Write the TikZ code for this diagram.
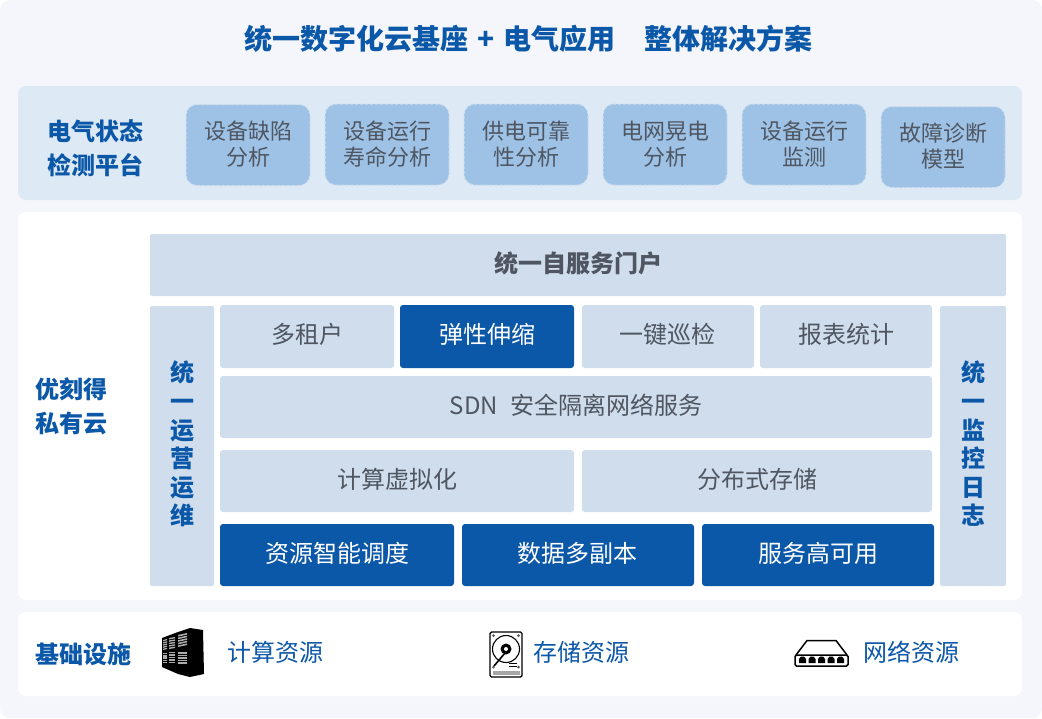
\documentclass[tikz,border=0pt]{standalone}
\usepackage{fontspec}
\setmainfont{Noto Sans CJK SC}
\definecolor{pagebg}{HTML}{F4F6FB}
\definecolor{panelblue}{HTML}{DDE9F5}
\definecolor{cardblue}{HTML}{9DC2E6}
\definecolor{lightbox}{HTML}{CFDDED}
\definecolor{darkblue}{HTML}{0B57A8}
\definecolor{greytext}{HTML}{4F5661}
\tikzset{
 x=1pt,y=-1pt,
 anynode/.style={inner sep=0pt,outer sep=0pt,align=center,anchor=center},
 panelbox/.style={anynode,rounded corners=8pt,fill=#1},
 card/.style={anynode,rounded corners=11pt,fill=cardblue,draw=lightbox,densely dashed,line width=1pt,text=greytext,font=\fontsize{22}{26}\selectfont,minimum width=124pt,minimum height=81pt},
 lbox/.style={anynode,rounded corners=3pt,fill=lightbox,text=greytext,font=\fontsize{24}{28}\selectfont,text height=20pt,text depth=6pt},
 dbox/.style={anynode,rounded corners=3pt,fill=darkblue,text=white,font=\fontsize{24}{28}\selectfont,text height=20pt,text depth=6pt},
 side/.style={anynode,rounded corners=2pt,fill=lightbox,text=darkblue,font=\bfseries\fontsize{24}{28.6}\selectfont,minimum width=#1,minimum height=280pt},
 head/.style={anynode,text=darkblue,font=\bfseries\fontsize{24}{34}\selectfont},
 res/.style={anynode,text=darkblue,font=\fontsize{24}{28}\selectfont},
 slat/.style={fill=gray!65,draw=none},
}
\begin{document}
\begin{tikzpicture}
\useasboundingbox (0,0) rectangle (1042,718);
\fill[white] (0,0) rectangle (1042,718);
\fill[pagebg,rounded corners=10pt] (0,0) rectangle (1042,718);
\node[anynode,text=darkblue,font=\bfseries\fontsize{28}{32}\selectfont] (title) at (528.5,39) {统一数字化云基座\hspace{8.5pt}+\hspace{8.5pt}电气应用\hspace{29pt}整体解决方案};
% panels
\node[panelbox=panelblue,minimum width=1004pt,minimum height=114pt] (p1) at (520,143) {};
\node[panelbox=white,minimum width=1004pt,minimum height=388pt] (p2) at (520,406) {};
\node[panelbox=white,minimum width=1004pt,minimum height=84pt] (p3) at (520,654) {};
% top row
\node[head] (ht) at (95.5,148) {电气状态\\检测平台};
\node[card] (c1) at (248,145) {设备缺陷\\分析\\[-23pt]};
\node[card] (c2) at (387,144.5) {设备运行\\寿命分析\\[-23pt]};
\node[card] (c3) at (526,144.5) {供电可靠\\性分析\\[-23pt]};
\node[card] (c4) at (665,144.5) {电网晃电\\分析\\[-23pt]};
\node[card] (c5) at (804,144.5) {设备运行\\监测\\[-23pt]};
\node[card] (c6) at (943,147) {故障诊断\\模型\\[-23pt]};
% middle
\node[head] (hm) at (71,406.5) {优刻得\\私有云};
\node[lbox,rounded corners=2pt,font=\bfseries\fontsize{24}{28}\selectfont,minimum width=856pt,minimum height=62pt] (portal) at (578,265) {统一自服务门户};
\node[side=64pt] (ops) at (182,446) {统\\一\\运\\营\\运\\维\\[-22.6pt]};
\node[side=66pt] (mon) at (973,446) {统\\一\\监\\控\\日\\志\\[-22.6pt]};
\node[lbox,minimum width=174pt,minimum height=63pt] (b1) at (307,336.5) {多租户};
\node[dbox,minimum width=174pt,minimum height=63pt] (b2) at (487,336.5) {弹性伸缩};
\node[lbox,minimum width=172pt,minimum height=63pt] (b3) at (668,336.5) {\hspace{-2pt}一键巡检};
\node[lbox,minimum width=172pt,minimum height=63pt] (b4) at (846,336.5) {报表统计};
\node[lbox,minimum width=712pt,minimum height=62pt] (sdn) at (576,407) {SDN\hspace{7pt} 安全隔离网络服务};
\node[lbox,minimum width=354pt,minimum height=62pt] (vm) at (397,481) {计算虚拟化};
\node[lbox,minimum width=350pt,minimum height=62pt] (st) at (757,481) {分布式存储};
\node[dbox,minimum width=234pt,minimum height=62pt] (d1) at (337,555) {资源智能调度};
\node[dbox,minimum width=232pt,minimum height=62pt] (d2) at (578,555) {\hspace{-2pt}数据多副本};
\node[dbox,minimum width=232pt,minimum height=62pt] (d3) at (818,555) {服务高可用};
% bottom
\node[head] (hb) at (83,654) {基础设施};
\node[res] (r1) at (275.5,652) {计算资源};
\node[res] (r2) at (581.5,652) {存储资源};
\node[res] (r3) at (911.5,652) {网络资源};
% server icon
\fill[black] (178,632) -- (190,628) -- (203,630) -- (204,674) -- (190,677) -- (178,674) -- (162,667) -- (162,638) -- cycle;
\foreach \k in {0,...,4}{
  \fill[slat] (178,{635+2.6*\k}) -- (187,{633+2.6*\k}) -- (187,{634.6+2.6*\k}) -- (178,{636.6+2.6*\k}) -- cycle;
  \fill[slat] (178,{652+2.6*\k}) -- (187,{652+2.6*\k}) -- (187,{653.6+2.6*\k}) -- (178,{653.6+2.6*\k}) -- cycle;
  \fill[slat] (169,{638+2.4*\k}) -- (175,{637+2.4*\k}) -- (175,{638.4+2.4*\k}) -- (169,{639.4+2.4*\k}) -- cycle;
  \fill[slat] (169,{652+2.4*\k}) -- (175,{652+2.4*\k}) -- (175,{653.4+2.4*\k}) -- (169,{653.4+2.4*\k}) -- cycle;
  \fill[slat] (163,{640+2.2*\k}) -- (167,{639+2.2*\k}) -- (167,{640.3+2.2*\k}) -- (163,{641.3+2.2*\k}) -- cycle;
  \fill[slat] (163,{653+2.2*\k}) -- (167,{653+2.2*\k}) -- (167,{654.3+2.2*\k}) -- (163,{654.3+2.2*\k}) -- cycle;
}
% hard disk icon
\draw[black,line width=1.4pt,rounded corners=1.5pt] (490,632) rectangle (522,677);
\fill[gray!70] (492.5,671) rectangle (519.5,675);
\draw[black,line width=1.1pt] (506,649) circle (13.5);
\fill[black] (506,649) circle (5.5);
\fill[white] (506,649) circle (2);
\draw[black,line width=1.6pt] (494,666) -- (505,653);
\draw[black,line width=.8pt] (509,663) -- (517,663) (509,666) -- (517,666);
\foreach \p in {(493.5,635.5),(518.5,635.5),(493.5,667),(518.5,667)}{\fill[gray!70!black] \p circle (1.5);}
% switch icon
\draw[black,line width=1.5pt,rounded corners=1.5pt] (795,655) rectangle (848,666);
\draw[black,line width=1.5pt] (796,655) -- (807,640.5) -- (836,640.5) -- (847,655);
\foreach \xs in {799,808.5,818,827.5,837}{
  \fill[black] (\xs,659) -- (\xs+2,656.5) -- (\xs+5,656.5) -- (\xs+7,659) -- (\xs+7,663) -- (\xs,663) -- cycle;
}
\end{tikzpicture}
\end{document}
